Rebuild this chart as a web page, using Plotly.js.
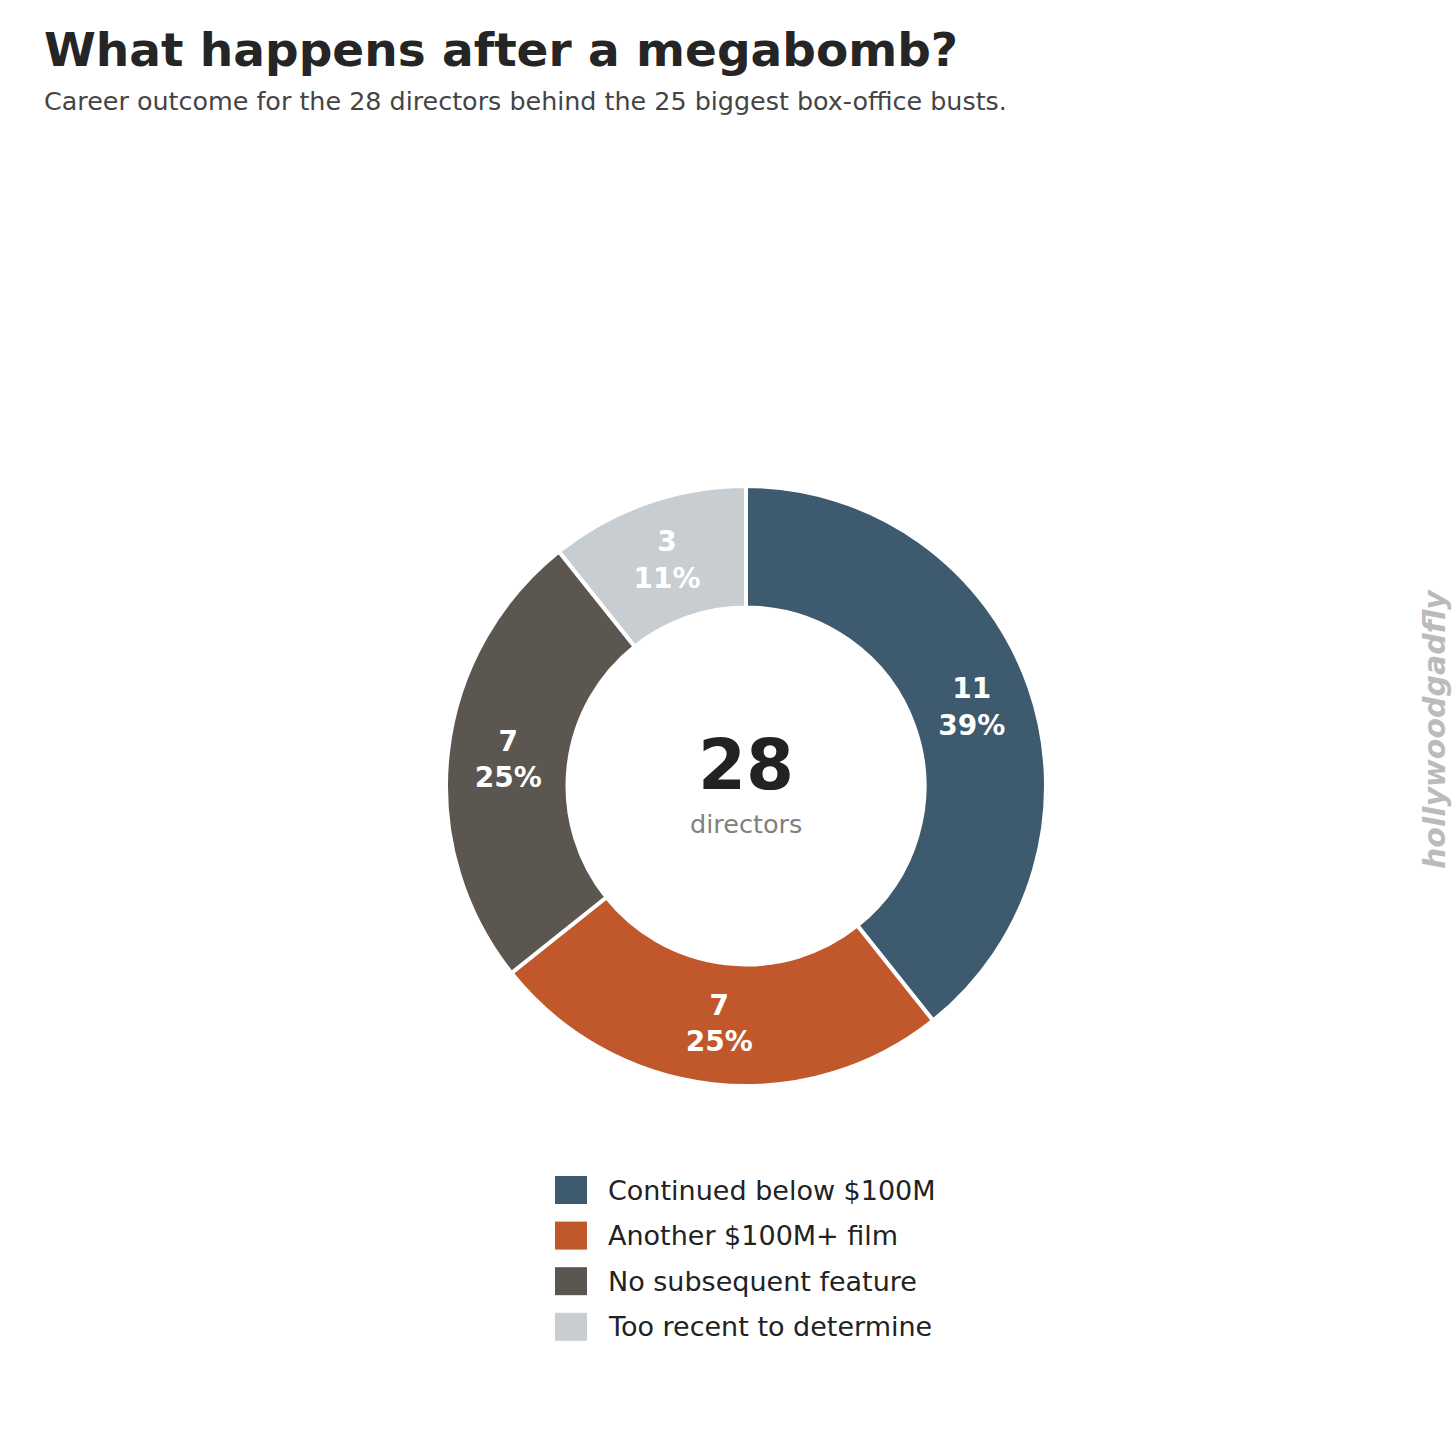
<!DOCTYPE html>
<html>
<head>
<meta charset="utf-8">
<script src="https://cdn.plot.ly/plotly-3.0.1.min.js"></script>
<style>
  html, body { margin: 0; padding: 0; background: #fff; }
  #chart { width: 1456px; height: 1456px; }
</style>
</head>
<body>
<div id="chart"></div>
<script>
const outcomes = ["Continued below $100M", "Another $100M+ film", "No subsequent feature", "Too recent to determine"];
const directorCounts = [11, 7, 7, 3];
const sliceColors = ["#3d5a6e", "#c0582b", "#5b5750", "#c8cdd1"];

const total = directorCounts.reduce((a, b) => a + b, 0);
const W = 1456, H = 1456;
const FONT = "DejaVu Sans, sans-serif";

// hand-built legend so the swatches can be as big as the reference
const legendShapes = [];
const legendNotes = [];
outcomes.forEach((label, i) => {
  const cy = 1190 + i * 45.6;
  legendShapes.push({
    type: "rect", xref: "paper", yref: "paper",
    x0: 555 / W, x1: 587 / W,
    y0: 1 - (cy + 14) / H, y1: 1 - (cy - 14) / H,
    fillcolor: sliceColors[i], line: { width: 0 },
  });
  legendNotes.push({
    text: label, xref: "paper", yref: "paper",
    x: 606 / W, y: 1 - cy / H, xanchor: "left", yanchor: "middle",
    showarrow: false, font: { family: FONT, size: 27, color: "#222" },
  });
});

Plotly.newPlot(
  "chart",
  [
    {
      type: "pie",
      labels: outcomes,
      values: directorCounts,
      marker: { colors: sliceColors, line: { color: "#fff", width: 4 } },
      hole: 0.595,
      sort: false,
      direction: "clockwise",
      rotation: 0,
      texttemplate: "<b>%{value}<br>%{percent:.0%}</b>",
      textposition: "inside",
      insidetextorientation: "horizontal",
      textfont: { family: FONT, size: 28, color: "#fff" },
      showlegend: false,
      hoverinfo: "label+value+percent",
      domain: { x: [446 / W, 1046 / W], y: [1 - 1086 / H, 1 - 486 / H] },
    },
  ],
  {
    width: W,
    height: H,
    margin: { l: 0, r: 0, t: 0, b: 0 },
    paper_bgcolor: "#fff",
    showlegend: false,
    shapes: legendShapes,
    annotations: [
      {
        text: "<b>What happens after a megabomb?</b>",
        xref: "paper", yref: "paper", x: 42 / W, y: 1 - 50 / H,
        xanchor: "left", yanchor: "middle", showarrow: false,
        font: { family: FONT, size: 47, color: "#252525" },
      },
      {
        text: "Career outcome for the 28 directors behind the 25 biggest box-office busts.",
        xref: "paper", yref: "paper", x: 42 / W, y: 1 - 101 / H,
        xanchor: "left", yanchor: "middle", showarrow: false,
        font: { family: FONT, size: 25.4, color: "#444" },
      },
      {
        text: "<b>" + total + "</b>",
        xref: "paper", yref: "paper", x: 746 / W, y: 1 - 765 / H,
        xanchor: "center", yanchor: "middle", showarrow: false,
        font: { family: FONT, size: 69, color: "#222" },
      },
      {
        text: "directors",
        xref: "paper", yref: "paper", x: 746 / W, y: 1 - 824 / H,
        xanchor: "center", yanchor: "middle", showarrow: false,
        font: { family: FONT, size: 25.5, color: "#808080" },
      },
      {
        text: "<b><i>hollywoodgadfly</i></b>",
        xref: "paper", yref: "paper", x: 1434 / W, y: 1 - 729 / H,
        xanchor: "center", yanchor: "middle", showarrow: false, textangle: -90,
        font: { family: FONT, size: 30, color: "#bbbbbb" },
      },
      ...legendNotes,
    ],
  },
  { displayModeBar: false },
);
</script>
</body>
</html>
